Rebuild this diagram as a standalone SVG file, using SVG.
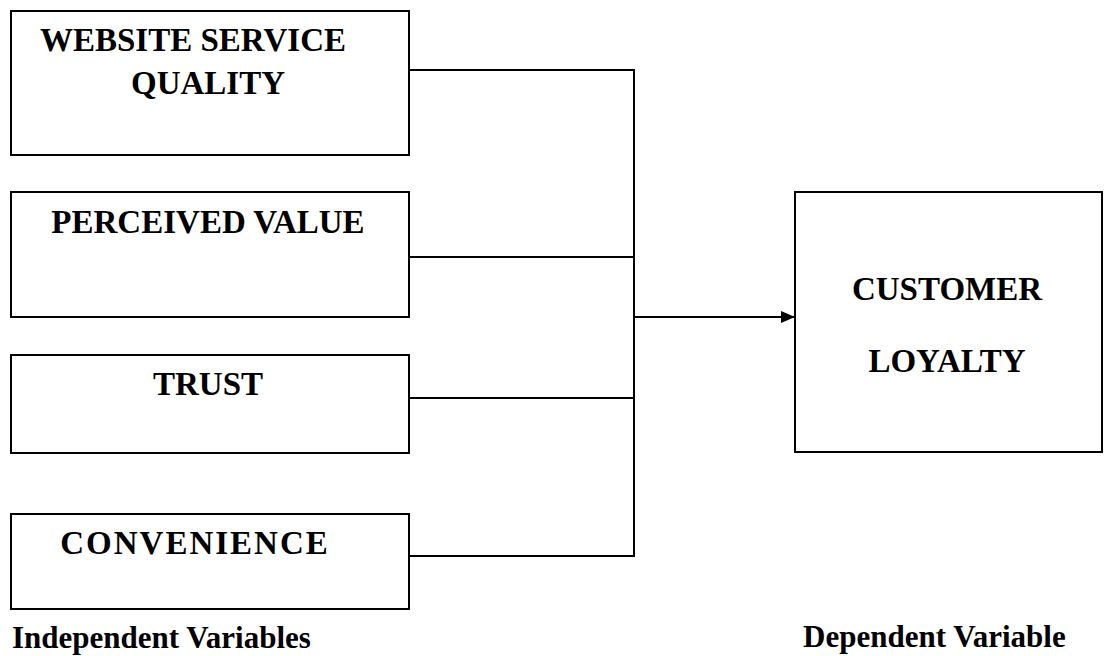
<svg xmlns="http://www.w3.org/2000/svg" width="1107" height="656" viewBox="0 0 1107 656">
<style>
.box{fill:#fff;stroke:#000;stroke-width:2}
.t{font-family:"Liberation Serif","Times New Roman",serif;font-weight:bold;font-size:33px;fill:#000;text-anchor:middle}
.lab{font-family:"Liberation Serif","Times New Roman",serif;font-weight:bold;font-size:31px;fill:#000}
.c{fill:none;stroke:#000;stroke-width:2}
</style>
<defs>
<marker id="arr" markerWidth="14" markerHeight="12" refX="14" refY="6" orient="auto" markerUnits="userSpaceOnUse">
<path d="M0,0 L14,6 L0,12 Z" fill="#000"/>
</marker>
</defs>
<rect width="1107" height="656" fill="#fff"/>
<g id="connectors">
<path class="c" d="M409,70 H634 V556 H409"/>
<path class="c" d="M409,257 H634"/>
<path class="c" d="M409,398 H634"/>
<path class="c" d="M634,317 H795" marker-end="url(#arr)"/>
</g>
<g id="n1"><rect class="box" x="11" y="11" width="398" height="144"/>
<text class="t" x="193" y="51">WEBSITE SERVICE</text>
<text class="t" x="208" y="94">QUALITY</text></g>
<g id="n2"><rect class="box" x="11" y="192" width="398" height="125"/>
<text class="t" x="208" y="233">PERCEIVED VALUE</text></g>
<g id="n3"><rect class="box" x="11" y="355" width="398" height="98"/>
<text class="t" x="208" y="395">TRUST</text></g>
<g id="n4"><rect class="box" x="11" y="514" width="398" height="95"/>
<text class="t" x="195" y="554" letter-spacing="2">CONVENIENCE</text></g>
<g id="n5"><rect class="box" x="795" y="192" width="307" height="260"/>
<text class="t" x="947" y="300">CUSTOMER</text>
<text class="t" x="947" y="372">LOYALTY</text></g>
<text class="lab" x="12" y="648">Independent Variables</text>
<text class="lab" x="803" y="647">Dependent Variable</text>
</svg>
